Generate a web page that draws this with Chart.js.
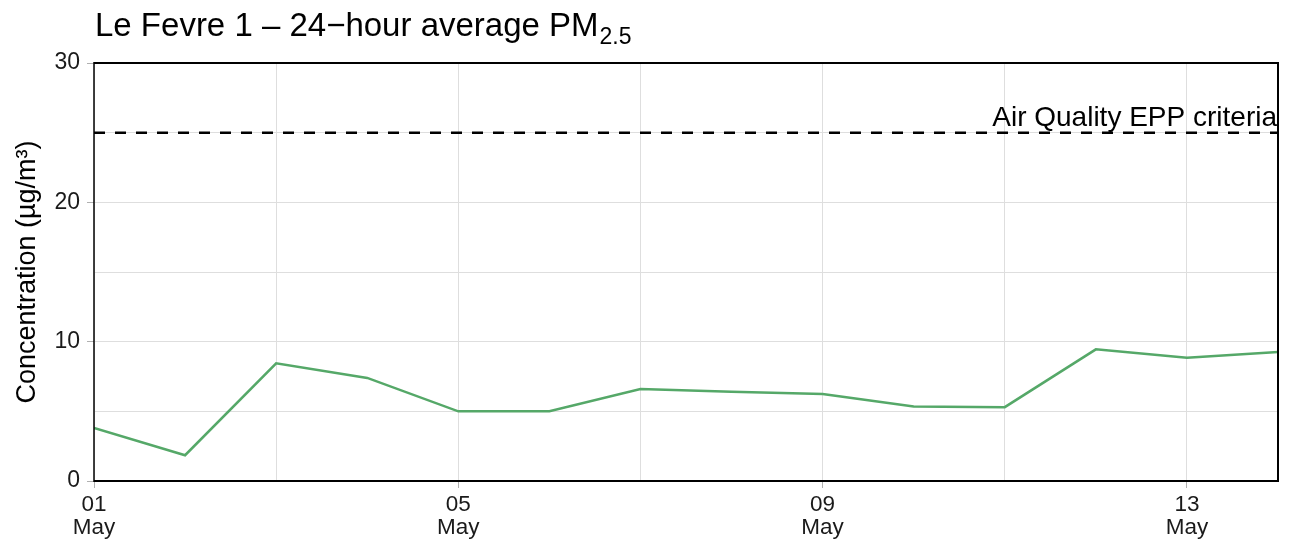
<!DOCTYPE html>
<html>
<head>
<meta charset="utf-8">
<script src="https://cdn.jsdelivr.net/npm/chart.js@4"></script>
<style>
  html, body { margin: 0; padding: 0; background: #fff; }
  #wrap { width: 1291px; height: 542px; position: relative; }
</style>
</head>
<body>
<div id="wrap"><canvas id="c" width="1291" height="542"></canvas></div>
<script>
// ---- data ----
const days = [1, 2, 3, 4, 5, 6, 7, 8, 9, 10, 11, 12, 13, 14];
const pm25 = [3.8, 1.85, 8.45, 7.4, 5.0, 5.0, 6.6, 6.4, 6.25, 5.35, 5.3, 9.45, 8.85, 9.25];
const criteriaValue = 25;
const criteriaLabel = 'Air Quality EPP criteria';
const labelledDays = [1, 5, 9, 13];
const dayLabels = ['01', '05', '09', '13'];
const monthLabel = 'May';
const gridDays = [1, 3, 5, 7, 9, 11, 13];
const titleMain = 'Le Fevre 1 \u2013 24\u2212hour average PM';
const titleSub = '2.5';
const yTitle = 'Concentration (\u00b5g/m\u00b3)';

const FONT = '"Liberation Sans", Arial, Helvetica, sans-serif';

const overlay = {
  id: 'overlay',
  afterDraw(chart) {
    const ctx = chart.ctx;
    const a = chart.chartArea;
    const y = chart.scales.y;
    ctx.save();
    // frame
    ctx.strokeStyle = '#000';
    ctx.lineWidth = 2;
    ctx.beginPath();
    ctx.moveTo(a.left, a.top);
    ctx.lineTo(a.right, a.top);
    ctx.lineTo(a.right, a.bottom);
    ctx.lineTo(a.left, a.bottom);
    ctx.stroke();
    ctx.lineWidth = 1.5;
    ctx.beginPath();
    ctx.moveTo(a.left, a.top - 1);
    ctx.lineTo(a.left, a.bottom + 1);
    ctx.stroke();
    // criteria label
    ctx.fillStyle = '#000';
    ctx.font = '28px ' + FONT;
    ctx.textAlign = 'right';
    ctx.textBaseline = 'alphabetic';
    ctx.fillText(criteriaLabel, a.right - 1, y.getPixelForValue(criteriaValue) - 7);
    // title with subscript
    ctx.textAlign = 'left';
    ctx.font = '33px ' + FONT;
    ctx.fillText(titleMain, 95, 36);
    const w = ctx.measureText(titleMain).width;
    ctx.font = '23px ' + FONT;
    ctx.fillText(titleSub, 95 + w + 1, 44);
    ctx.restore();
  }
};

new Chart(document.getElementById('c'), {
  type: 'line',
  data: {
    datasets: [
      {
        label: 'PM2.5',
        data: days.map((d, i) => ({ x: d, y: pm25[i] })),
        borderColor: '#55a868',
        borderWidth: 2.5,
        pointRadius: 0,
        tension: 0,
        fill: false
      },
      {
        label: criteriaLabel,
        data: [{ x: days[0], y: criteriaValue }, { x: days[days.length - 1], y: criteriaValue }],
        borderColor: '#000',
        borderWidth: 2.5,
        borderDash: [11, 10],
        pointRadius: 0,
        fill: false
      }
    ]
  },
  options: {
    responsive: false,
    animation: false,
    layout: { padding: { top: 63, right: 13, bottom: 0, left: 0 } },
    plugins: {
      legend: { display: false },
      title: { display: false },
      tooltip: { enabled: false }
    },
    scales: {
      x: {
        type: 'linear',
        min: days[0],
        max: days[days.length - 1],
        afterBuildTicks: (s) => { s.ticks = gridDays.map(v => ({ value: v })); },
        afterFit: (s) => { s.height = 61; },
        border: { display: false },
        grid: {
          color: '#dedede',
          lineWidth: 1,
          tickLength: 7,
          tickColor: (c) => labelledDays.includes(c.tick && c.tick.value) ? '#b0b0b0' : 'rgba(0,0,0,0)'
        },
        ticks: {
          autoSkip: false,
          maxRotation: 0,
          padding: 5,
          color: '#1a1a1a',
          font: { family: FONT, size: 22.5, lineHeight: 1.03 },
          callback: (v) => {
            const i = labelledDays.indexOf(v);
            return i >= 0 ? [dayLabels[i], monthLabel] : '';
          }
        }
      },
      y: {
        min: 0,
        max: 30,
        afterFit: (s) => { s.width = 94; },
        border: { display: false },
        grid: {
          color: '#dedede',
          lineWidth: 1,
          tickLength: 7,
          tickColor: (c) => (c.tick && c.tick.value % 10 === 0) ? '#b0b0b0' : 'rgba(0,0,0,0)'
        },
        ticks: {
          stepSize: 5,
          padding: 7,
          color: '#1a1a1a',
          font: { family: FONT, size: 23 },
          callback: (v) => (v % 10 === 0 ? String(v) : '')
        },
        title: {
          display: true,
          text: yTitle,
          color: '#000',
          font: { family: FONT, size: 27 },
          padding: { top: 11, bottom: 0 }
        }
      }
    }
  },
  plugins: [overlay]
});
</script>
</body>
</html>
